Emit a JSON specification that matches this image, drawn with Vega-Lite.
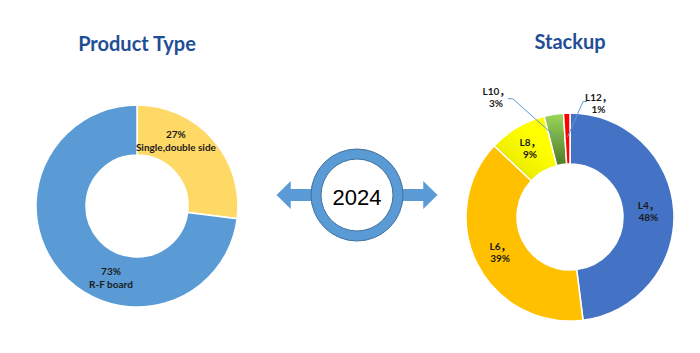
{
  "$schema": "https://vega.github.io/schema/vega-lite/v6.json",
  "background": "white",
  "padding": {"left": 0, "right": 0, "top": 32, "bottom": 0},
  "spacing": 0,
  "bounds": "flush",
  "config": {"view": {"stroke": null}},
  "resolve": {"scale": {"theta": "independent", "color": "independent", "x": "independent", "y": "independent", "shape": "independent"}},
  "hconcat": [
    {
      "width": 274,
      "height": 250,
      "title": {"text": "Product Type", "font": "Lato", "fontSize": 20, "fontWeight": "bold", "color": "#1F4E96", "anchor": "middle", "frame": "group", "offset": 10, "baseline": "alphabetic"},
      "data": {"values": [
        {"type": "Single,double side", "pct": 27},
        {"type": "R-F board", "pct": 73}
      ]},
      "transform": [{"calculate": "[datum.pct + '%', datum.type]", "as": "lbl"}],
      "encoding": {
        "theta": {"field": "pct", "type": "quantitative", "stack": true},
        "order": {"field": "pct", "sort": "ascending"}
      },
      "layer": [
        {
          "mark": {"type": "arc", "outerRadius": 101, "innerRadius": 51, "stroke": "white", "strokeWidth": 1.5},
          "encoding": {
            "color": {"field": "type", "type": "nominal", "scale": {"domain": ["Single,double side", "R-F board"], "range": ["#FFD966", "#5B9BD5"]}, "legend": null}
          }
        },
        {
          "mark": {"type": "text", "radius": 76, "thetaOffset": -0.311, "dy": -6, "font": "Lato", "fontSize": 10, "fontWeight": "bold", "lineHeight": 13, "baseline": "middle", "align": "center", "color": "#1a1a1a"},
          "encoding": {"text": {"condition": {"test": "datum.type === 'Single,double side'", "field": "lbl", "type": "nominal"}, "value": ""}}
        },
        {
          "mark": {"type": "text", "radius": 76, "thetaOffset": -0.499, "dy": -5, "font": "Lato", "fontSize": 10, "fontWeight": "bold", "lineHeight": 13, "baseline": "middle", "align": "center", "color": "#1a1a1a"},
          "encoding": {"text": {"condition": {"test": "datum.type === 'R-F board'", "field": "lbl", "type": "nominal"}, "value": ""}}
        }
      ]
    },
    {
      "width": 166,
      "height": 228,
      "layer": [
        {
          "data": {"values": [
            {"arrow": "left", "from": -67, "to": -40},
            {"arrow": "right", "from": 40, "to": 67}
          ]},
          "mark": {"type": "rule", "color": "#5B9BD5", "strokeWidth": 12, "strokeCap": "butt"},
          "encoding": {
            "x": {"field": "from", "type": "quantitative", "scale": {"domain": [-83, 83], "nice": false, "zero": false}, "axis": null},
            "x2": {"field": "to"},
            "y": {"datum": 0, "type": "quantitative", "scale": {"domain": [-114, 114], "nice": false, "zero": false}, "axis": null}
          }
        },
        {
          "data": {"values": [
            {"arrow": "left", "head": -66.5},
            {"arrow": "right", "head": 66.5}
          ]},
          "mark": {"type": "point", "filled": true, "color": "#5B9BD5", "opacity": 1, "size": 784, "strokeWidth": 0},
          "encoding": {
            "x": {"field": "head", "type": "quantitative"},
            "y": {"datum": 0, "type": "quantitative"},
            "shape": {"field": "arrow", "type": "nominal", "scale": {"domain": ["left", "right"], "range": ["M-1,0L0.02,-1L0.02,1Z", "M1,0L-0.02,-1L-0.02,1Z"]}, "legend": null}
          }
        },
        {
          "data": {"values": [{"year": "2024", "share": 1}]},
          "mark": {"type": "arc", "outerRadius": 46, "innerRadius": 36, "color": "#5B9BD5", "stroke": "#41719C", "strokeWidth": 1},
          "encoding": {"theta": {"field": "share", "type": "quantitative"}}
        },
        {
          "data": {"values": [{"year": "2024"}]},
          "mark": {"type": "text", "font": "Liberation Sans", "fontSize": 22, "dy": 3, "color": "black", "align": "center", "baseline": "middle"},
          "encoding": {"text": {"field": "year", "type": "nominal"}}
        }
      ]
    },
    {
      "width": 260,
      "height": 272,
      "title": {"text": "Stackup", "font": "Lato", "fontSize": 20, "fontWeight": "bold", "color": "#1F4E96", "anchor": "middle", "frame": "group", "offset": 10, "baseline": "alphabetic"},
      "data": {"values": [
        {"layer": "L4", "pct": 48},
        {"layer": "L6", "pct": 39},
        {"layer": "L8", "pct": 9},
        {"layer": "L10", "pct": 3},
        {"layer": "L12", "pct": 1}
      ]},
      "transform": [{"calculate": "[datum.layer + '，', datum.pct + '%']", "as": "lbl"}],
      "layer": [
        {
          "mark": {"type": "arc", "outerRadius": 104, "innerRadius": 53, "stroke": "white", "strokeWidth": 1.5},
          "encoding": {
            "theta": {"field": "pct", "type": "quantitative", "stack": true},
            "order": {"field": "pct", "sort": "descending"},
            "color": {
              "field": "layer", "type": "nominal",
              "scale": {"domain": ["L4", "L6", "L8", "L10", "L12"], "range": ["#4472C4", "#FFC000", "#FFFF00", "#92D050", "#FF0000"]},
              "legend": null,
              "condition": [
                {"test": "datum.layer === 'L8'", "value": {"gradient": "linear", "x1": 0, "y1": 1, "x2": 0.6, "y2": 0.3, "stops": [{"offset": 0, "color": "#A8A800"}, {"offset": 0.5, "color": "#F0F000"}, {"offset": 1, "color": "#FFFF00"}]}},
                {"test": "datum.layer === 'L10'", "value": {"gradient": "linear", "x1": 0, "y1": 0, "x2": 0, "y2": 1, "stops": [{"offset": 0, "color": "#9BD75A"}, {"offset": 1, "color": "#4E7A26"}]}}
              ]
            }
          }
        },
        {
          "data": {"values": [
            {"lead": "L10", "i": 0, "x": -62, "y": 118.5},
            {"lead": "L10", "i": 1, "x": -57, "y": 118},
            {"lead": "L10", "i": 2, "x": -12, "y": 78},
            {"lead": "L12", "i": 0, "x": 17, "y": 115.5},
            {"lead": "L12", "i": 1, "x": 13, "y": 115.5},
            {"lead": "L12", "i": 2, "x": -2.5, "y": 80}
          ]},
          "mark": {"type": "line", "color": "#5B9BD5", "strokeWidth": 1},
          "encoding": {
            "x": {"field": "x", "type": "quantitative", "scale": {"domain": [-130, 130], "nice": false, "zero": false}, "axis": null},
            "y": {"field": "y", "type": "quantitative", "scale": {"domain": [-136, 136], "nice": false, "zero": false}, "axis": null},
            "detail": {"field": "lead"},
            "order": {"field": "i", "type": "quantitative"}
          }
        },
        {
          "mark": {"type": "text", "radius": 78.5, "dy": -6, "font": "Lato, Noto Sans CJK SC", "fontSize": 10, "fontWeight": "bold", "lineHeight": 12, "baseline": "middle", "align": "center", "color": "#1a1a1a"},
          "encoding": {
            "theta": {"field": "pct", "type": "quantitative", "stack": true},
            "order": {"field": "pct", "sort": "descending"},
            "text": {"condition": {"test": "datum.layer === 'L4' || datum.layer === 'L6' || datum.layer === 'L8'", "field": "lbl", "type": "nominal"}, "value": ""}
          }
        },
        {
          "mark": {"type": "text", "radius": 140, "thetaOffset": -0.40, "dy": -6, "font": "Lato, Noto Sans CJK SC", "fontSize": 10, "fontWeight": "bold", "lineHeight": 12, "baseline": "middle", "align": "center", "color": "#1a1a1a"},
          "encoding": {
            "theta": {"field": "pct", "type": "quantitative", "stack": true},
            "order": {"field": "pct", "sort": "descending"},
            "text": {"condition": {"test": "datum.layer === 'L10'", "field": "lbl", "type": "nominal"}, "value": ""}
          }
        },
        {
          "mark": {"type": "text", "radius": 117.5, "thetaOffset": 0.276, "dy": -5, "font": "Lato, Noto Sans CJK SC", "fontSize": 10, "fontWeight": "bold", "lineHeight": 12, "baseline": "middle", "align": "center", "color": "#1a1a1a"},
          "encoding": {
            "theta": {"field": "pct", "type": "quantitative", "stack": true},
            "order": {"field": "pct", "sort": "descending"},
            "text": {"condition": {"test": "datum.layer === 'L12'", "field": "lbl", "type": "nominal"}, "value": ""}
          }
        }
      ]
    }
  ]
}
